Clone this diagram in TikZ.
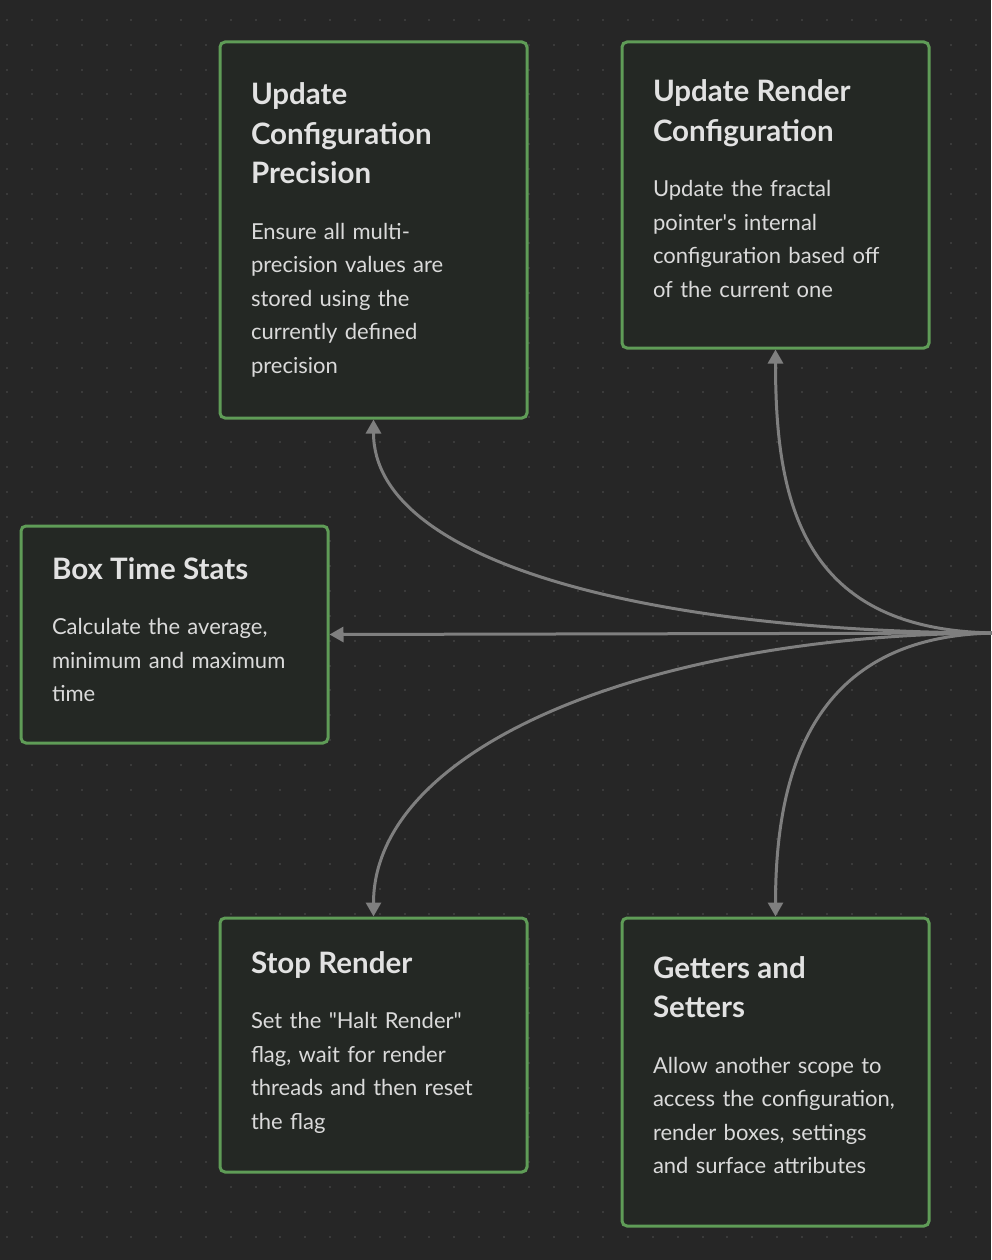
\documentclass[tikz,border=0pt]{standalone}
\usepackage{fontspec}
\setmainfont{Lato}[Ligatures=TeXOff]
\usepackage{xcolor}
\usetikzlibrary{arrows.meta,calc}

\definecolor{cBack}{HTML}{262626}
\definecolor{cDot}{HTML}{3A3A3A}
\definecolor{cCard}{HTML}{242824}
\definecolor{cBorder}{HTML}{5F9C57}
\definecolor{cFlow}{HTML}{7F7F7F}
\definecolor{cTitle}{HTML}{E2E2E2}
\definecolor{cBody}{HTML}{DADADA}

\tikzstyle{tsCard} = [
    rectangle,
    draw=cBorder,
    line width=3pt,
    fill=cCard,
    rounded corners=5pt,
    anchor=north west,
    text width=245pt,
    inner xsep=31pt,
    inner ysep=0pt,
    align=left,
    text=cBody,
    font=\fontsize{22pt}{33.5pt}\selectfont
]
\tikzstyle{tsFlow} = [
    draw=cFlow,
    line width=3pt,
    -{Triangle[length=14pt,width=15pt]}
]

\newcommand{\cardTitle}[1]{{\fontsize{29.5pt}{39.5pt}\selectfont\bfseries\color{cTitle}#1\par}\vspace{22pt}}

\begin{document}
\begin{tikzpicture}[x=1pt, y=-1pt]

        \useasboundingbox (0,0) rectangle (991,1260);
        \fill[cBack] (0,0) rectangle (991,1260);

        % dotted canvas
        \foreach \i in {0,...,39} {
            \foreach \j in {0,...,49} {
                \fill[cDot] (6.3+24.83*\i, 19+24.83*\j) rectangle +(2,2);
            }
        }

        \node[tsCard, text height=63pt, text depth=313pt] (precision) at (218.5,40.5)
            {\cardTitle{Update\\Configuration\\Precision}
             Ensure all multi-\\precision values are\\stored using the\\currently defined\\precision};

        \node[tsCard, text height=60pt, text depth=246pt] (renderconf) at (620.5,40.5)
            {\cardTitle{Update Render\\Configuration}
             Update the fractal\\pointer's internal\\configuration based off\\of the current one};

        \node[tsCard, text height=53pt, text depth=164pt] (timestats) at (19.5,524.5)
            {\cardTitle{Box Time Stats}
             Calculate the average,\\minimum and maximum\\time};

        \node[tsCard, text height=55pt, text depth=199pt] (stoprender) at (218.5,916.5)
            {\cardTitle{Stop Render}
             Set the "Halt Render"\\flag, wait for render\\threads and then reset\\the flag};

        \node[tsCard, text height=60pt, text depth=248pt] (getset) at (620.5,916.5)
            {\cardTitle{Getters and\\Setters}
             Allow another scope to\\access the configuration,\\render boxes, settings\\and surface attributes};

        \coordinate (hub) at (1000,633);

        \draw[tsFlow] (hub) .. controls +(-350,0) and +(0,143) .. (precision.south);
        \draw[tsFlow] (hub) .. controls +(-200,0) and +(0,150) .. (renderconf.south);
        \draw[tsFlow] (hub) -- (timestats.east);
        \draw[tsFlow] (hub) .. controls +(-350,0) and +(0,-170) .. (stoprender.north);
        \draw[tsFlow] (hub) .. controls +(-180,0) and +(0,-157) .. (getset.north);

\end{tikzpicture}
\end{document}
